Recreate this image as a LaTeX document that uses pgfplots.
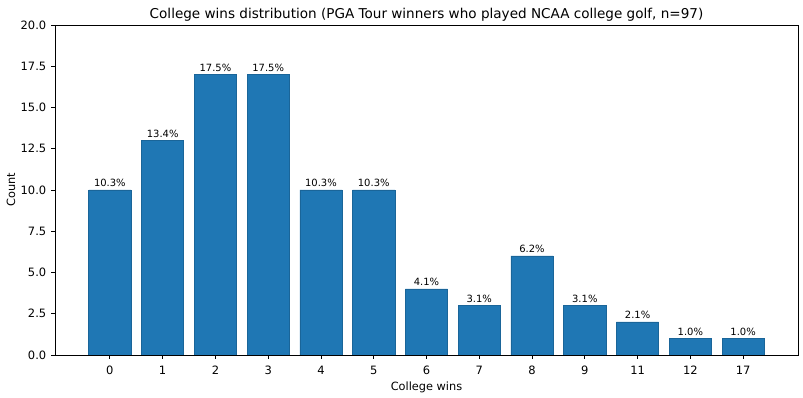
\documentclass[border=0pt]{standalone}
\usepackage{pgfplots}
\pgfplotsset{compat=1.18}
\usepackage{pgfplotstable}
\usepackage{fontspec}
\setmainfont{DejaVu Sans}
\definecolor{barblue}{HTML}{1F77B4}
\pgfplotstableread{
x y pct
0 10 10.3
1 13 13.4
2 17 17.5
3 17 17.5
4 10 10.3
5 10 10.3
6 4 4.1
7 3 3.1
8 6 6.2
9 3 3.1
10 2 2.1
11 1 1.0
12 1 1.0
}\datatable
\begin{document}
\begin{tikzpicture}
\begin{axis}[
 name=ax,
 width=7.43in, height=3.30in, scale only axis,
 xmin=-1.04, xmax=13.04, ymin=0, ymax=20,
 xtick={0,...,12}, xticklabels={0,1,2,3,4,5,6,7,8,9,11,12,17},
 ytick={0,2.5,...,20},
 /pgf/number format/assume math mode=true,
 yticklabel style={/pgf/number format/.cd,fixed,fixed zerofill,precision=1},
 xticklabel style={yshift=-1.5pt},
 tick align=outside, major tick length=2.8pt,
 tick style={black, line width=0.64pt},
 axis line style={line width=0.64pt},
 xtick pos=bottom, ytick pos=left,
 ticklabel style={font=\fontsize{8.3}{10}\selectfont},
 label style={font=\fontsize{8.2}{9.8}\selectfont},
 xlabel={College wins}, ylabel={Count},
 xlabel style={yshift=1.5pt},
 ylabel style={yshift=-3pt},
 title={College wins distribution (PGA Tour winners who played NCAA college golf, n=97)},
 title style={font=\fontsize{9.8}{11.8}\selectfont, yshift=-7pt},
 nodes near coords={\pgfmathprintnumber[fixed,fixed zerofill,precision=1]{\pgfplotspointmeta}\%},
 nodes near coords style={font=\fontsize{7.2}{8.6}\selectfont, /pgf/number format/assume math mode=true, inner sep=2pt},
 point meta=explicit,
]
\addplot[ybar, bar width=0.8, fill=barblue, draw=barblue!85!black, line width=0.4pt]
 table[x=x, y=y, meta=pct]{\datatable};
\end{axis}
\pgfresetboundingbox
\path[use as bounding box] ([xshift=-0.55in,yshift=-0.42in]ax.south west) rectangle ([xshift=0.05in,yshift=0.25in]ax.north east);
\end{tikzpicture}
\end{document}
